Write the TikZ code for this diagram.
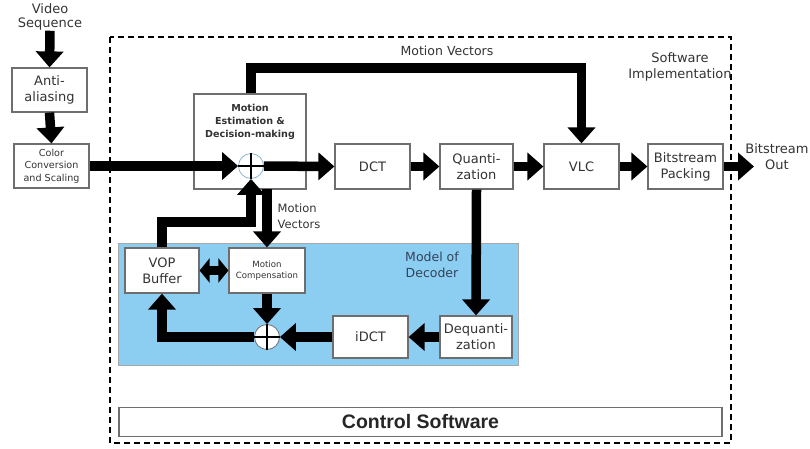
\documentclass[tikz,border=0pt]{standalone}
\usepackage{fontspec}
\setmainfont{DejaVu Sans}
\newfontfamily\arialfont{Liberation Sans}
\usetikzlibrary{arrows.meta}
\definecolor{boxline}{HTML}{6E6E6E}
\definecolor{txt}{HTML}{333333}
\definecolor{decoderblue}{HTML}{8CCDF2}
\definecolor{decodertxt}{HTML}{33445A}
\begin{document}
\begin{tikzpicture}[x=1pt,y=-1pt,
  blk/.style={draw=boxline, line width=1.2pt, fill=white, align=center,
    text=txt, inner sep=0pt, font=\fontsize{13}{16}\selectfont},
  lbl/.style={align=center, text=txt, inner sep=0pt, font=\fontsize{12.5}{15}\selectfont},
  flow/.style={line width=9.5pt, line join=miter, -{Triangle[width=27pt,length=16pt]}},
  sumnode/.style={circle, minimum size=25pt, inner sep=0pt, draw=boxline, line width=0.8pt},
  plus/.style={line width=1.6pt, black}]
\useasboundingbox (0,0) rectangle (810,448);

% software implementation frame
\draw[line width=1.6pt, dash pattern=on 6pt off 4pt] (110,37) rectangle (731,443);

% decoder model region
\fill[decoderblue] (118,243) rectangle (518,365);
\draw[boxline!60, line width=0.8pt] (118,243) rectangle (518,365);

% front end outside the frame
\node[lbl, font=\fontsize{13}{14.5}\selectfont] (vs) at (50,17) {Video\\Sequence};
\node[blk, minimum width=75pt, minimum height=44pt] (aa) at (49.5,90) {Anti-\\aliasing};
\node[blk, minimum width=75pt, minimum height=44pt, font=\fontsize{9.6}{12.5}\selectfont] (cc) at (51.5,166) {Color\\Conversion\\and Scaling};

% encoder blocks
\node[blk, minimum width=112pt, minimum height=95pt] (me) at (250,141.5) {};
\node[align=center, text=txt, inner sep=0pt, font=\bfseries\fontsize{9.6}{13}\selectfont] (metext) at (250,122) {Motion\\Estimation \&\\Decision-making};
\node[blk, minimum width=75pt, minimum height=45pt] (dct) at (372.5,166.5) {DCT};
\node[blk, minimum width=73pt, minimum height=45pt] (qz) at (476.5,166.5) {Quanti-\\zation};
\node[blk, minimum width=75pt, minimum height=45pt] (vlc) at (581.5,166.5) {VLC};
\node[blk, minimum width=75pt, minimum height=45pt] (bp) at (685.5,166.5) {Bitstream\\Packing};

% decoder blocks
\node[blk, minimum width=74pt, minimum height=45pt] (vop) at (162,270.5) {VOP\\Buffer};
\node[blk, minimum width=76pt, minimum height=45pt, font=\fontsize{8.6}{11}\selectfont] (mc) at (267,270.5) {Motion\\Compensation};
\node[blk, minimum width=72pt, minimum height=42pt] (dq) at (476,337) {Dequanti-\\zation};
\node[blk, minimum width=75pt, minimum height=42pt] (idct) at (370.5,337) {iDCT};

\node[blk, minimum width=603pt, minimum height=29pt, font=\arialfont\bfseries\fontsize{19.5}{22}\selectfont, text=black!85] (cs) at (420.5,422) {Control Software};

% summing junctions
\node[sumnode, draw=decoderblue!70!gray] (s1) at (251,166) {};
\node[sumnode, fill=white] (s2) at (267,337) {};

% route points
\coordinate (mvup) at (251,68);
\coordinate (fb) at (251,222);
\coordinate (mvdown) at (267,189);
\coordinate (out) at (754,166.5);

% data flow
\draw[flow] (vs.south) -- (aa.north);
\draw[flow] (aa.south) -- (cc.north);
\draw[flow] (cc.east) -- (s1.west);
\draw[flow] (s1.east) -- (dct.west);
\draw[flow] (dct.east) -- (qz.west);
\draw[flow] (qz.east) -- (vlc.west);
\draw[flow] (vlc.east) -- (bp.west);
\draw[flow] (bp.east) -- (out);
\draw[flow] (me.north -| mvup) -- (mvup) -| (vlc.north);
\draw[flow] (qz.south) -- (dq.north);
\draw[flow] (dq.west) -- (idct.east);
\draw[flow] (idct.west) -- (s2.east);
\draw[flow] (mc.south) -- (s2.north);
\draw[flow] (s2.west) -| (vop.south);
\draw[flow] (vop.north) |- (fb) -- (s1.south);
\draw[flow] (mvdown) -- (mvdown |- mc.north);
\draw[line width=9.5pt, {Triangle[width=24pt,length=10pt]}-{Triangle[width=24pt,length=10pt]}] (vop.east) -- (mc.west);

% plus signs on top of the junctions
\draw[plus] (s1.north) -- (s1.south) (s1.west) -- (s1.east);
\draw[plus] (s2.north) -- (s2.south) (s2.west) -- (s2.east);

% labels
\node[lbl] (mvtop) at (447,51) {Motion Vectors};
\node[lbl, align=left, font=\fontsize{11.5}{16}\selectfont] (mvlow) at (299,216) {Motion\\Vectors};
\node[lbl, font=\fontsize{13}{15.5}\selectfont] (swi) at (680,67) {Software\\Implementation};
\node[lbl, text=decodertxt, font=\fontsize{12.5}{16}\selectfont] (mdl) at (432,265) {Model of\\Decoder};
\node[lbl, font=\fontsize{13}{16}\selectfont] (bso) at (777,157) {Bitstream\\Out};
\end{tikzpicture}
\end{document}
